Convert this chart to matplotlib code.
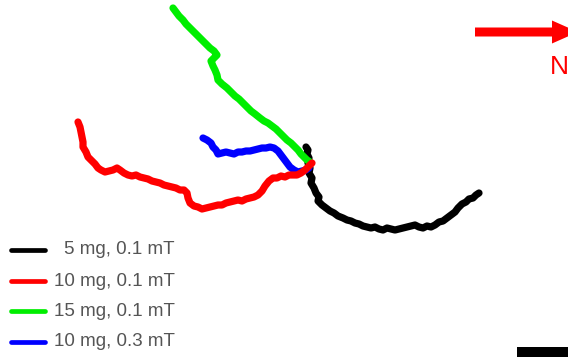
import matplotlib.pyplot as plt
from matplotlib.patches import FancyArrow, Rectangle

plt.rcParams['font.family'] = ['Liberation Sans', 'DejaVu Sans']

# trajectories, image pixel coordinates (x right, y down)
black_x = [306, 308, 307, 309, 308, 310, 309, 312, 311, 314, 316, 319, 318, 322, 326, 330, 334, 338, 343, 347,
           351, 355, 359, 363, 367, 371, 375, 379, 383, 387, 391, 395, 399, 403, 407, 411, 415, 419, 423, 427,
           431, 435, 439, 443, 447, 451, 455, 458, 462, 466, 469, 473, 476, 479]
black_y = [147, 150, 154, 158, 163, 168, 173, 178, 183, 188, 193, 197, 201, 205, 208, 211, 213, 216, 218, 220,
           221, 223, 224, 226, 227, 228, 227, 229, 230, 228, 229, 230, 229, 228, 227, 226, 225, 227, 228, 226,
           227, 225, 222, 221, 218, 215, 212, 208, 204, 202, 199, 198, 195, 193]

red_x = [78, 80, 81, 82, 83, 83, 86, 88, 92, 95, 98, 101, 105, 109, 113, 117, 120, 124, 128, 132,
         136, 140, 144, 148, 152, 156, 160, 164, 168, 172, 176, 180, 184, 187, 188, 190, 194, 198, 202, 206,
         210, 214, 218, 222, 226, 230, 234, 238, 242, 246, 250, 254, 258, 262, 265, 269, 273, 277, 281, 285,
         289, 293, 297, 301, 305, 309, 312]
red_y = [122, 127, 132, 137, 142, 147, 152, 157, 161, 164, 168, 170, 172, 171, 170, 168, 170, 173, 175, 176,
         175, 177, 178, 179, 181, 182, 183, 185, 186, 187, 188, 190, 190, 193, 198, 203, 206, 207, 209, 208,
         207, 206, 205, 205, 203, 202, 201, 200, 201, 199, 198, 197, 195, 191, 186, 181, 178, 178, 176, 177,
         175, 175, 175, 173, 170, 166, 163]

green_x = [173, 176, 179, 183, 186, 190, 193, 197, 200, 203, 207, 210, 214, 217, 214, 211, 213, 215, 217, 218,
           222, 227, 231, 235, 239, 243, 247, 251, 255, 260, 264, 268, 272, 276, 279, 283, 287, 291, 295, 298,
           301, 304, 307, 310]
green_y = [8, 12, 16, 20, 24, 28, 31, 35, 38, 41, 45, 48, 51, 55, 58, 61, 66, 70, 75, 80,
           84, 88, 92, 96, 99, 103, 107, 111, 114, 118, 121, 123, 126, 129, 132, 136, 140, 143, 147, 150,
           154, 157, 160, 162]

blue_x = [203, 207, 211, 213, 216, 218, 222, 226, 230, 234, 238, 242, 246, 250, 254, 258, 262, 266, 270, 274,
          278, 281, 284, 287, 290, 294, 298, 302, 306, 309]
blue_y = [138, 140, 143, 147, 150, 154, 153, 152, 153, 154, 152, 152, 151, 151, 150, 149, 148, 148, 147, 148,
          151, 155, 159, 163, 167, 170, 172, 171, 170, 168]

labels = ['5 mg, 0.1 mT', '10 mg, 0.1 mT', '15 mg, 0.1 mT', '10 mg, 0.3 mT']
colors = ['#000000', '#ff0000', '#00ee00', '#0000ff']
legend_y = [250, 281, 311, 342]

fig = plt.figure(figsize=(5.68, 3.57), dpi=100)
ax = fig.add_axes([0, 0, 1, 1])
ax.set_xlim(0, 568)
ax.set_ylim(357, 0)
ax.axis('off')

paths = [(black_x, black_y, colors[0]), (green_x, green_y, colors[2]),
         (blue_x, blue_y, colors[3]), (red_x, red_y, colors[1])]
for xs, ys, c in paths:
    ax.plot(xs, ys, color=c, lw=5.2, solid_joinstyle='round', solid_capstyle='round')

# legend
for lab, c, y in zip(labels, colors, legend_y):
    ax.plot([11, 45], [y, y], color=c, lw=3.4, solid_capstyle='round')
    ax.text(175, y, lab, ha='right', va='center', fontsize=13.5, color='#555555')

# north arrow (tip runs off the right edge)
ax.add_patch(FancyArrow(475, 32, 103, 0, width=9, head_width=23, head_length=26,
                        length_includes_head=True, color='#ff0000', lw=0, clip_on=True))
ax.text(559, 67, 'N', ha='center', va='center', fontsize=19, color='#ff0000')

# scale bar
ax.add_patch(Rectangle((517, 347), 51, 10, color='black', lw=0))

fig.savefig('out.png', dpi=100)
